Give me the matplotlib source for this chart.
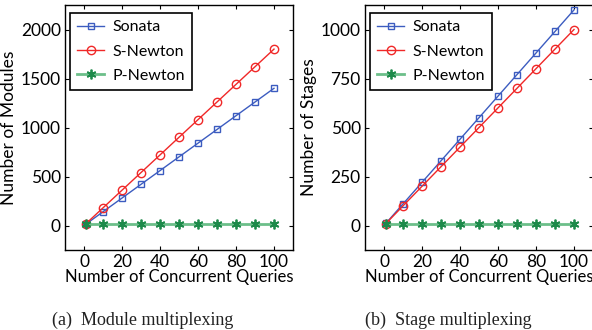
import matplotlib
matplotlib.use("Agg")
import matplotlib.pyplot as plt

plt.rcParams['font.family'] = ['Lato', 'DejaVu Sans']

queries = [1, 10, 20, 30, 40, 50, 60, 70, 80, 90, 100]

# (a) modules
mod_sonata = [14, 140, 280, 420, 560, 700, 840, 980, 1120, 1260, 1400]
mod_snewton = [18, 180, 360, 540, 720, 900, 1080, 1260, 1440, 1620, 1800]
mod_pnewton = [16, 16, 16, 16, 16, 16, 16, 16, 16, 16, 16]

# (b) stages
stg_sonata = [11, 110, 220, 330, 440, 550, 660, 770, 880, 990, 1100]
stg_snewton = [10, 100, 200, 300, 400, 500, 600, 700, 800, 900, 1000]
stg_pnewton = [10, 10, 10, 10, 10, 10, 10, 10, 10, 10, 10]

W, H = 592, 330
fig = plt.figure(figsize=(W / 100, H / 100), dpi=100)
ax1 = fig.add_axes([65 / W, 80 / H, 228 / W, 245 / H])
ax2 = fig.add_axes([365 / W, 80 / H, 228 / W, 245 / H])


def draw(ax, sonata, snewton, pnewton, ylim, yticks, ylabel):
    ax.plot(queries, sonata, color='#3c5cc0', lw=1, marker='s', ms=5,
            mfc='none', mec='#3c5cc0', mew=1, label='Sonata')
    ax.plot(queries, snewton, color='#f02828', lw=1, marker='o', ms=6,
            mfc='none', mec='#f02828', mew=1, label='S-Newton')
    ax.plot(queries, pnewton, color='#6cbf8a', lw=2, marker=(6, 2, 0), ms=7,
            mfc='#1d8a4a', mec='#1d8a4a', mew=1.3, label='P-Newton')
    ax.set_xlim(-10, 110)
    ax.set_ylim(*ylim)
    ax.set_xticks([0, 20, 40, 60, 80, 100])
    ax.set_yticks(yticks)
    ax.tick_params(direction='in', top=True, right=True, length=3,
                   labelsize=12.5, pad=3)
    ax.set_xlabel('Number of Concurrent Queries', fontsize=12, labelpad=-1)
    ax.set_ylabel(ylabel, fontsize=12.5, labelpad=3)
    for s in ax.spines.values():
        s.set_linewidth(1)
    leg = ax.legend(loc='upper left', fontsize=11.5, fancybox=False,
                    framealpha=1, edgecolor='black', borderpad=0.45,
                    handlelength=1.7, handletextpad=0.5, labelspacing=0.62,
                    borderaxespad=0, bbox_to_anchor=(0.022, 0.967))
    leg.get_frame().set_linewidth(1.2)


draw(ax1, mod_sonata, mod_snewton, mod_pnewton, (-250, 2250),
     [0, 500, 1000, 1500, 2000], 'Number of Modules')
draw(ax2, stg_sonata, stg_snewton, stg_pnewton, (-125, 1125),
     [0, 250, 500, 750, 1000], 'Number of Stages')

fig.text(143 / W, 1 - 320 / H, '(a)  Module multiplexing', ha='center',
         va='center', fontsize=13, family='Liberation Serif', color='#222222')
fig.text(448 / W, 1 - 320 / H, '(b)  Stage multiplexing', ha='center',
         va='center', fontsize=13, family='Liberation Serif', color='#222222')

fig.savefig('out.png', dpi=100)
